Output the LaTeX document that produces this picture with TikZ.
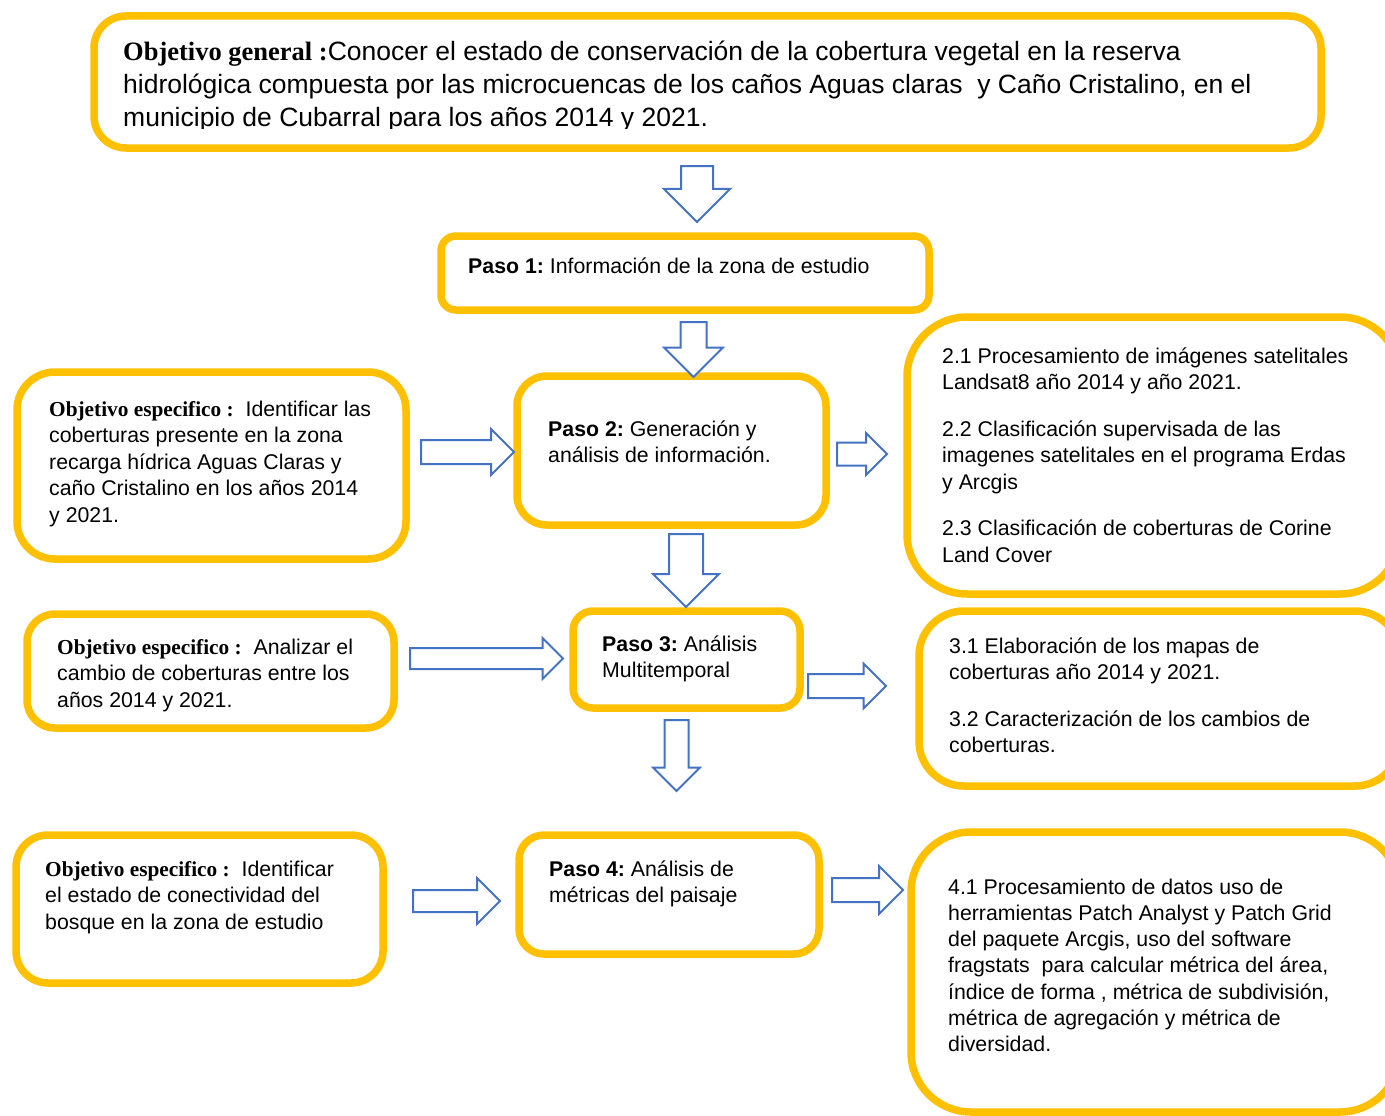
\documentclass[tikz,border=0pt]{standalone}
\usepackage{fontspec}
\setmainfont{Liberation Sans}
\newfontfamily\serifbold{Liberation Serif}
\usetikzlibrary{shapes.arrows}
\definecolor{gold}{HTML}{FFC000}
\definecolor{arrowblue}{HTML}{4472C4}
\newcommand{\objtag}[1]{{\serifbold\bfseries #1}}
\frenchspacing

\begin{document}
\begin{tikzpicture}[x=1pt,y=-1pt,
	box/.style={draw=gold, line width=7.5pt, fill=white, rounded corners=#1},
	txt/.style={anchor=north west, inner sep=0pt, align=left, yshift=14.55pt,
		font=\fontsize{21.3}{26.5}\selectfont, execute at begin node=\strut},
	fatarrow/.style={single arrow, draw=arrowblue, line width=2pt, fill=white,
		inner xsep=0pt, inner ysep=#1/2, outer sep=0pt, anchor=tail},
	downarrow/.style={fatarrow=#1, rotate=-90}]
	\path[use as bounding box] (0,0) rectangle (1385,1116);
	\clip (0,0) rectangle (1385,1116);

	% boxes
	\node[box=32, minimum width=1227, minimum height=132] (gen) at (707.5,82) {};
	\node[box=15, minimum width=488, minimum height=74] (p1) at (685,273) {};
	\node[box=30, minimum width=309, minimum height=149] (p2) at (671.5,450.5) {};
	\node[box=20, minimum width=227, minimum height=97] (p3) at (686.5,659.5) {};
	\node[box=25, minimum width=300, minimum height=119] (p4) at (669,894.5) {};
	\node[box=38, minimum width=389, minimum height=187] (o1) at (211.5,465.5) {};
	\node[box=28, minimum width=367, minimum height=114] (o2) at (210.5,671) {};
	\node[box=32, minimum width=367, minimum height=148] (o3) at (199.5,909) {};
	\node[box=60, minimum width=493, minimum height=277] (r2) at (1153.5,455.5) {};
	\node[box=45, minimum width=481, minimum height=175] (r3) at (1159.5,698.5) {};
	\node[box=60, minimum width=489, minimum height=280] (r4) at (1155.5,972) {};

	% texts (positions are first baselines)
	\begin{scope}
		\clip (100,20) rectangle (1310,128);
		\node[txt, yshift=3.55pt, font=\fontsize{26.5}{33}\selectfont] (gentxt) at (123,59) {\objtag{Objetivo general :}Conocer el estado de conservación de la cobertura vegetal en la reserva\\
			hidrológica compuesta por las microcuencas de los caños Aguas claras~ y Caño Cristalino, en el\\
			municipio de Cubarral para los años 2014 y 2021.};
	\end{scope}
	\node[txt, yshift=4pt] (p1txt) at (468,273) {\textbf{Paso 1:} Información de la zona de estudio};
	\node[txt] (p2txt) at (548,435) {\textbf{Paso 2:} Generación y\\análisis de información.};
	\node[txt] (p3txt) at (602,650) {\textbf{Paso 3:} Análisis\\Multitemporal};
	\node[txt] (p4txt) at (549,875) {\textbf{Paso 4:} Análisis de\\métricas del paisaje};
	\node[txt] (o1txt) at (49,415) {\objtag{Objetivo especifico :}~ Identificar las\\coberturas presente en la zona\\recarga hídrica Aguas Claras y\\caño Cristalino en los años 2014\\y 2021.};
	\node[txt] (o2txt) at (57,653) {\objtag{Objetivo especifico :}~ Analizar el\\cambio de coberturas entre los\\años 2014 y 2021.};
	\node[txt] (o3txt) at (45,875) {\objtag{Objetivo especifico :}~ Identificar\\el estado de conectividad del\\bosque en la zona de estudio};
	\node[txt] (r2txt) at (942,362) {2.1 Procesamiento de imágenes satelitales\\Landsat8 año 2014 y año 2021.\\[20pt]
		2.2 Clasificación supervisada de las\\imagenes satelitales en el programa Erdas\\y Arcgis\\[20pt]
		2.3 Clasificación de coberturas de Corine\\Land Cover};
	\node[txt] (r3txt) at (949,652) {3.1 Elaboración de los mapas de\\coberturas año 2014 y 2021.\\[20pt]
		3.2 Caracterización de los cambios de\\coberturas.};
	\node[txt, font=\fontsize{21.3}{26.3}\selectfont] (r4txt) at (948,893) {4.1 Procesamiento de datos uso de\\herramientas Patch Analyst y Patch Grid\\del paquete Arcgis, uso del software\\fragstats~ para calcular métrica del área,\\índice de forma , métrica de subdivisión,\\métrica de agregación y métrica de\\diversidad.};

	% block arrows
	\node[downarrow=30, minimum height=56, single arrow head extend=17] (a1) at (697,166) {};
	\node[downarrow=24, minimum height=55, single arrow head extend=16.5] (a2) at (693.5,322) {};
	\node[downarrow=32, minimum height=73, single arrow head extend=16] (a3) at (686,534) {};
	\node[downarrow=22, minimum height=71, single arrow head extend=11.5] (a4) at (676.5,720) {};
	\node[fatarrow=22, minimum height=93, single arrow head extend=11] (a5) at (421,452) {};
	\node[fatarrow=21, minimum height=50, single arrow head extend=9.5] (a6) at (837,454) {};
	\node[fatarrow=19, minimum height=153, single arrow head extend=10] (a7) at (410,658.5) {};
	\node[fatarrow=22, minimum height=78, single arrow head extend=10.5] (a8) at (808,686) {};
	\node[fatarrow=20, minimum height=87, single arrow head extend=12] (a9) at (413,901) {};
	\node[fatarrow=22, minimum height=71, single arrow head extend=12] (a10) at (832,890) {};
\end{tikzpicture}
\end{document}
